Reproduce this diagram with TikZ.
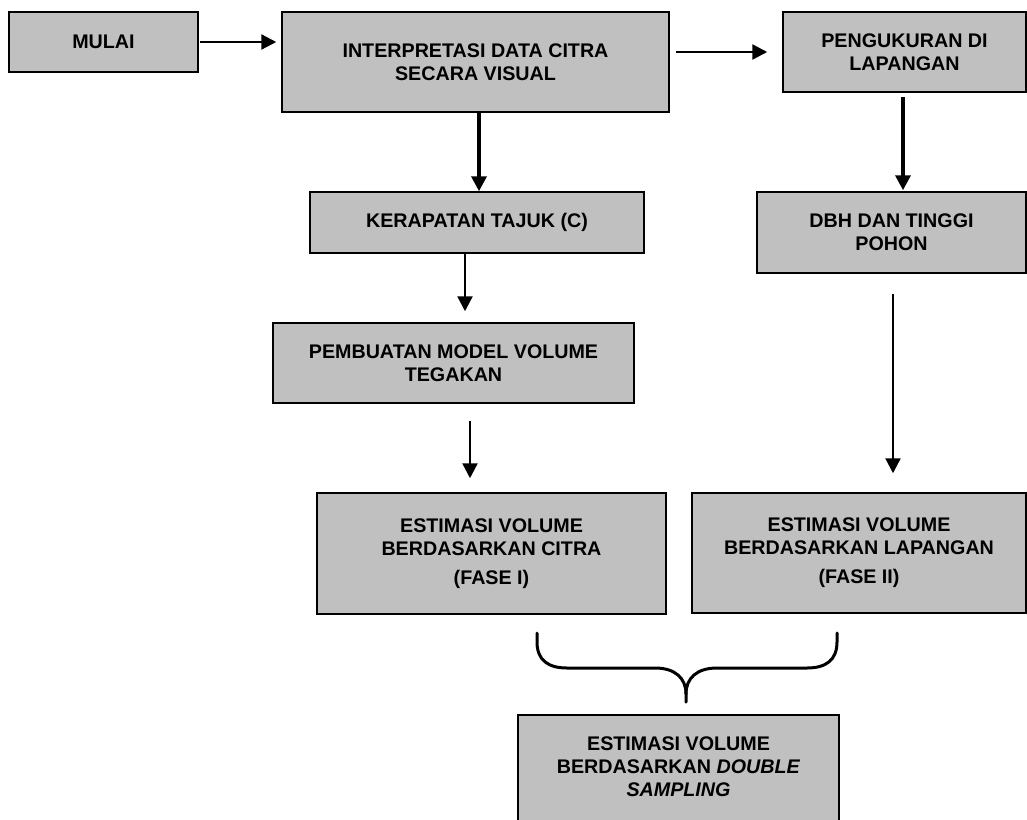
\documentclass[tikz,border=0pt]{standalone}
\usepackage{fontspec}
\setmainfont{Liberation Sans}
\usetikzlibrary{arrows.meta,calc}
\definecolor{boxgray}{HTML}{C0C0C0}
\tikzset{
  boxfont/.style={font=\bfseries\fontsize{19.7}{23}\selectfont},
  box/.style={draw=black, line width=1.5pt, fill=boxgray, inner sep=0pt, align=center, boxfont},
  arr/.style={line width=2.3pt, -{Triangle[length=15pt,width=15pt]}},
  arrthick/.style={arr, line width=3.5pt},
  bracestyle/.style={line width=3pt, line cap=round, line join=round},
}
\begin{document}
\begin{tikzpicture}[x=1pt,y=-1pt]
\useasboundingbox (0,0) rectangle (1027,819);
\clip (0,0) rectangle (1027,819);

\node[box, minimum width=189, minimum height=60] (mulai) at (103.5,42) {MULAI};
\node[box, minimum width=387, minimum height=100] (interp) at (475.5,62) {INTERPRETASI DATA CITRA\\SECARA VISUAL};
\node[box, minimum width=243, minimum height=80] (peng) at (904.5,52) {PENGUKURAN DI\\LAPANGAN};
\node[box, minimum width=334, minimum height=61] (kerap) at (477,222.5) {KERAPATAN TAJUK (C)};
\node[box, minimum width=269, minimum height=81] (dbh) at (891.5,232.5) {DBH DAN TINGGI\\POHON};
\node[box, minimum width=361, minimum height=80] (pemb) at (453.5,363) {PEMBUATAN MODEL VOLUME\\TEGAKAN};
\node[box, minimum width=349, minimum height=121] (est1) at (491.5,553.5) {ESTIMASI VOLUME\\BERDASARKAN CITRA\\[6pt](FASE I)};
\node[box, minimum width=334, minimum height=120] (est2) at (859,553) {ESTIMASI VOLUME\\BERDASARKAN LAPANGAN\\[6pt](FASE II)};
\draw[line width=1.5pt, fill=boxgray] (518,715) rectangle (839,900);
\node[boxfont, align=center, inner sep=0pt] (final) at (678.5,766.5) {ESTIMASI VOLUME\\BERDASARKAN \textit{DOUBLE}\\\textit{SAMPLING}};

\draw[arr, shorten <=1pt, shorten >=5pt] (mulai.east) -- (mulai.east -| interp.west);
\draw[arr, shorten <=6pt, shorten >=15pt] (peng.west -| interp.east) -- (peng.west);
\draw[arrthick] ([xshift=3.5pt]interp.south) -- ([xshift=3.5pt]interp.south |- kerap.north);
\draw[arr, shorten >=11pt] ([xshift=-12pt]kerap.south) -- ([xshift=-12pt]kerap.south |- pemb.north);
\draw[arr, shorten <=17pt, shorten >=14pt] ([xshift=16.5pt]pemb.south) -- ([xshift=16.5pt]pemb.south |- est1.north);
\draw[arrthick, shorten <=4pt, shorten >=1pt] ([xshift=-1.5pt]peng.south) -- ([xshift=-1.5pt]peng.south |- dbh.north);
\draw[arr, shorten <=20pt, shorten >=19pt] ([xshift=1.5pt]dbh.south) -- ([xshift=1.5pt]dbh.south |- est2.north);

\draw[bracestyle] (537,633) -- (537,642) .. controls (537,660) and (548,668) .. (567,668) -- (655,668) .. controls (675,668) and (686,678) .. (686,694) -- (686,702);
\draw[bracestyle] (837,633) -- (837,642) .. controls (837,660) and (826,668) .. (807,668) -- (717,668) .. controls (697,668) and (686,678) .. (686,694);
\end{tikzpicture}
\end{document}
